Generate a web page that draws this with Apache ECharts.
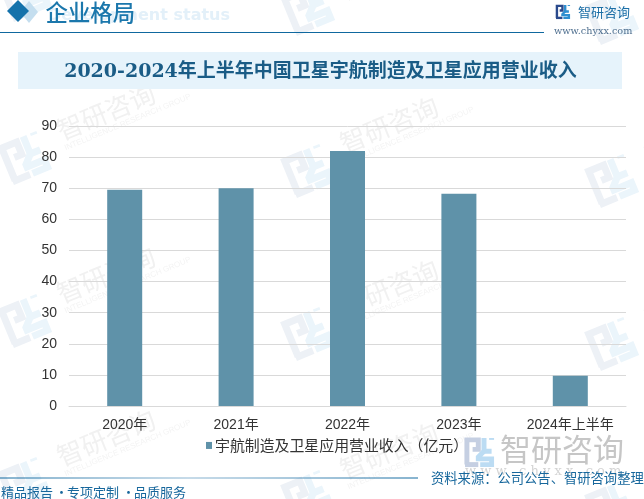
<!DOCTYPE html>
<html><head><meta charset="utf-8">
<style>html,body{margin:0;padding:0;background:#fff}#c{width:644px;height:499px}</style>
<script src="https://cdn.jsdelivr.net/npm/echarts@6/dist/echarts.min.js"></script>
</head><body><div id="c"></div>
<script>
const categories = ['2020年','2021年','2022年','2023年','2024年上半年'];
const revenue = [69.5,70,82,68.2,9.7];
const seriesName = '宇航制造及卫星应用营业收入（亿元）';
const chartTitle = '2020-2024年上半年中国卫星宇航制造及卫星应用营业收入';
const watermarkSpots = [[23,-6],[23,157],[23,320],[23,483],[306,8],[306,170],[306,333],[306,496],[610,17],[610,180],[610,343],[610,506]];

function logo(x,y,s,c1,c2,opacity,z){
  const line=(pts,c)=>({type:'polyline',z,silent:true,shape:{points:pts.map(p=>[x+p[0]*s,y+p[1]*s])},style:{fill:null,stroke:c,lineWidth:2.6*s,opacity}});
  return [
    line([[1,14],[1,1],[7,1],[7,6],[4,6]],c1),
    line([[0,14],[7,14]],c1),
    line([[10,0],[10,7],[14,7]],c2),
    line([[14,1],[14,0]],c2),
    line([[10,7],[7,10],[7,11],[14,11],[14,14],[8,14]],c2)
  ];
}
function watermark(p){
  return {type:'group',x:p[0],y:p[1],rotation:Math.PI/8,z:-5,silent:true,children:[
    ...logo(-19,-19,2.7,'#edf1f6','#ebf5fb',1,-5),
    {type:'text',z:-5,x:42,y:-10,style:{text:'智研咨询',verticalAlign:'middle',font:'26px "Noto Sans CJK SC"',fill:'#f1f1f1'}},
    {type:'text',z:-5,x:42,y:8,style:{text:'INTELLIGENCE RESEARCH GROUP',verticalAlign:'middle',font:'8px "Liberation Sans"',fill:'#f4f4f4'}}
  ]};
}
const cjk='"Noto Sans CJK SC"';
const blue='#17679c';
const footText=(x,t)=>({type:'text',z:3,silent:true,style:{x,y:492.5,text:t,verticalAlign:'middle',font:'13px '+cjk,fill:blue}});
const graphics=[
  ...watermarkSpots.map(watermark),
  {type:'text',z:1,silent:true,style:{x:230,y:16,text:'Development status',align:'right',verticalAlign:'middle',font:'bold 16px "DejaVu Sans"',fill:'#e3f0f9'}},
  {type:'polygon',z:2,silent:true,shape:{points:[[29,1],[38,12],[29,23],[20,12]]},style:{fill:'#c4deef'}},
  {type:'polygon',z:3,silent:true,shape:{points:[[18,0],[29,11],[18,22],[7,11]]},style:{fill:'#1472ab'}},
  {type:'text',z:3,silent:true,style:{x:45.5,y:12,text:'企业格局',verticalAlign:'middle',font:'500 22.4px '+cjk,fill:'#1b77ac'}},
  {type:'line',z:3,silent:true,shape:{x1:0,y1:32.5,x2:544,y2:32.5},style:{stroke:'#0f689f',lineWidth:1}},
  ...logo(556,5,0.92,'#2a4a8c','#2f8fd0',1,3),
  {type:'text',z:3,silent:true,style:{x:578,y:12,text:'智研咨询',verticalAlign:'middle',font:'13px '+cjk,fill:'#1b6ea6'}},
  {type:'text',z:3,silent:true,style:{x:554,y:31,text:'www.chyxx.com',verticalAlign:'middle',font:'9.7px "DejaVu Serif"',fill:'#4f6f8f'}},
  {type:'rect',z:1,silent:true,shape:{x:18,y:52,width:604,height:37},style:{fill:'#e6f3fb'}},
  {type:'text',z:3,silent:true,style:{x:320.5,y:72.5,text:chartTitle,align:'center',verticalAlign:'middle',font:'bold 19px "DejaVu Serif",'+cjk,fill:'#1a5c86'}},
  ...logo(465,438,1.9,'#c5cfe2','#bcdcf3',1,2),
  {type:'text',z:2,silent:true,style:{x:500,y:449,text:'智研咨询',verticalAlign:'middle',font:'31px '+cjk,fill:'#c6c6c6'}},
  {type:'text',z:2,silent:true,style:{x:465,y:472,text:'w w w . c h y x x . c o m',verticalAlign:'middle',font:'13px "DejaVu Serif"',fill:'#d4d4d4'}},
  {type:'line',z:3,silent:true,shape:{x1:0,y1:478,x2:418,y2:478},style:{stroke:{type:'linear',x:0,y:0,x2:1,y2:0,colorStops:[{offset:0,color:'#0f689f'},{offset:0.45,color:'#8db6d2'},{offset:1,color:'#0f689f'}]},lineWidth:1}},
  footText(1,'精品报告'),footText(55,'·'),footText(67,'专项定制'),footText(122,'·'),footText(134,'品质服务'),
  {type:'text',z:3,silent:true,style:{x:431,y:478,text:'资料来源：公司公告、智研咨询整理',verticalAlign:'middle',font:'13.3px '+cjk,fill:blue}}
];
const chart=echarts.init(document.getElementById('c'),null,{renderer:'canvas'});
chart.setOption({
  animation:false,
  backgroundColor:'#fff',
  textStyle:{fontFamily:'"Liberation Sans",'+cjk},
  grid:{left:69,right:18,top:126,bottom:93,containLabel:false},
  legend:{left:201,top:433,itemWidth:6,itemHeight:7,itemGap:0,icon:'rect',
    textStyle:{fontSize:14.9,color:'#333',padding:[0,0,0,-2],fontFamily:cjk},data:[seriesName]},
  xAxis:{type:'category',data:categories,axisTick:{show:false},
    axisLine:{lineStyle:{color:'#d9d9d9',width:1}},
    axisLabel:{fontSize:14,color:'#333',margin:12,interval:0}},
  yAxis:{type:'value',min:0,max:90,interval:10,axisLine:{show:false},axisTick:{show:false},
    splitLine:{lineStyle:{color:'#d9d9d9',width:1}},
    axisLabel:{fontSize:14,color:'#333',margin:12,padding:[6,0,0,0]}},
  series:[{name:seriesName,type:'bar',data:revenue,barWidth:35,itemStyle:{color:'#5f92a9'}}],
  graphic:graphics
});
</script></body></html>
